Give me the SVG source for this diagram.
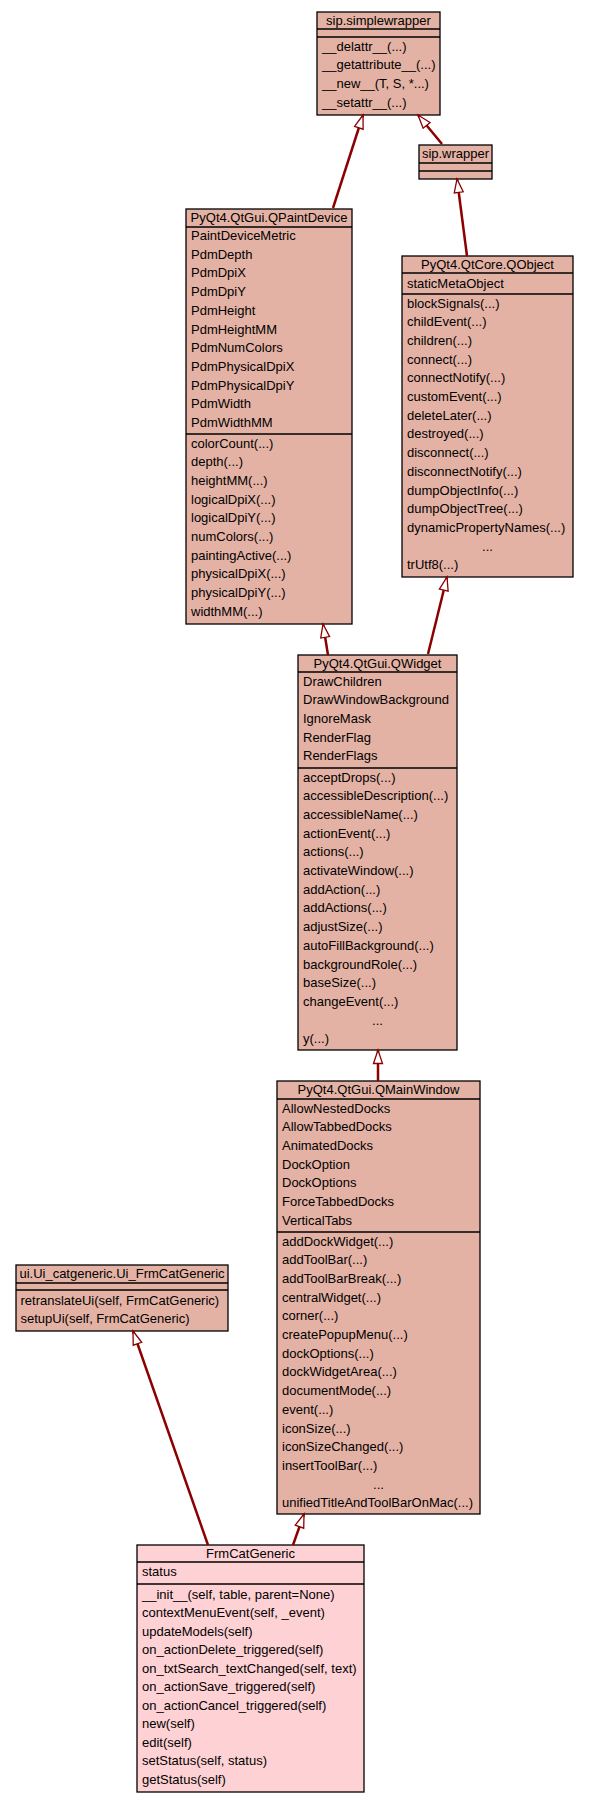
<svg xmlns="http://www.w3.org/2000/svg" width="589" height="1803" viewBox="0 0 589 1803">
<style>
text{font-family:"Liberation Sans",Arial,sans-serif;font-size:13px;fill:#000}
.t{text-anchor:middle}
.box{fill:#e4b2a4;stroke:#000;stroke-width:1.3}
.main{fill:#fed1d4;stroke:#000;stroke-width:1.3}
.sep{stroke:#000;stroke-width:1.5}
.edge{stroke:#8b0000;stroke-width:2.5;fill:none}
</style>
<defs>
<marker id="inh" viewBox="0 0 14 10" refX="14" refY="5" markerWidth="14" markerHeight="10" markerUnits="userSpaceOnUse" orient="auto" overflow="visible">
<path d="M0.5,0.5 L14,5 L0.5,9.5 Z" fill="#fff" stroke="#8b0000" stroke-width="1.3"/>
</marker>
</defs>
<rect width="589" height="1803" fill="#fff"/>

<g id="node-simplewrapper">
<rect class="box" x="317" y="12" width="123" height="103"/>
<line class="sep" x1="317" y1="29" x2="440" y2="29"/>
<line class="sep" x1="317" y1="37" x2="440" y2="37"/>
<text class="t" x="378.5" y="24.5">sip.simplewrapper</text>
<text x="322" y="50.5">__delattr__(...)</text>
<text x="322" y="69.2">__getattribute__(...)</text>
<text x="322" y="87.9">__new__(T, S, *...)</text>
<text x="322" y="106.6">__setattr__(...)</text>
</g>

<g id="node-wrapper">
<rect class="box" x="419" y="145" width="73" height="34"/>
<line class="sep" x1="419" y1="163" x2="492" y2="163"/>
<line class="sep" x1="419" y1="171" x2="492" y2="171"/>
<text class="t" x="455.5" y="157.5">sip.wrapper</text>
</g>

<g id="node-QPaintDevice">
<rect class="box" x="186" y="209" width="166" height="415"/>
<line class="sep" x1="186" y1="227" x2="352" y2="227"/>
<line class="sep" x1="186" y1="434" x2="352" y2="434"/>
<text class="t" x="269" y="221.5">PyQt4.QtGui.QPaintDevice</text>
<text x="191" y="240">PaintDeviceMetric</text>
<text x="191" y="258.7">PdmDepth</text>
<text x="191" y="277.4">PdmDpiX</text>
<text x="191" y="296.1">PdmDpiY</text>
<text x="191" y="314.8">PdmHeight</text>
<text x="191" y="333.5">PdmHeightMM</text>
<text x="191" y="352.2">PdmNumColors</text>
<text x="191" y="370.9">PdmPhysicalDpiX</text>
<text x="191" y="389.6">PdmPhysicalDpiY</text>
<text x="191" y="408.3">PdmWidth</text>
<text x="191" y="427">PdmWidthMM</text>
<text x="191" y="447.5">colorCount(...)</text>
<text x="191" y="466.2">depth(...)</text>
<text x="191" y="484.9">heightMM(...)</text>
<text x="191" y="503.6">logicalDpiX(...)</text>
<text x="191" y="522.3">logicalDpiY(...)</text>
<text x="191" y="541">numColors(...)</text>
<text x="191" y="559.7">paintingActive(...)</text>
<text x="191" y="578.4">physicalDpiX(...)</text>
<text x="191" y="597.1">physicalDpiY(...)</text>
<text x="191" y="615.8">widthMM(...)</text>
</g>

<g id="node-QObject">
<rect class="box" x="402" y="256" width="171" height="321"/>
<line class="sep" x1="402" y1="273" x2="573" y2="273"/>
<line class="sep" x1="402" y1="294" x2="573" y2="294"/>
<text class="t" x="487.5" y="268.5">PyQt4.QtCore.QObject</text>
<text x="407" y="287.5">staticMetaObject</text>
<text x="407" y="307.5">blockSignals(...)</text>
<text x="407" y="326.2">childEvent(...)</text>
<text x="407" y="344.9">children(...)</text>
<text x="407" y="363.6">connect(...)</text>
<text x="407" y="382.3">connectNotify(...)</text>
<text x="407" y="401">customEvent(...)</text>
<text x="407" y="419.7">deleteLater(...)</text>
<text x="407" y="438.4">destroyed(...)</text>
<text x="407" y="457.1">disconnect(...)</text>
<text x="407" y="475.8">disconnectNotify(...)</text>
<text x="407" y="494.5">dumpObjectInfo(...)</text>
<text x="407" y="513.2">dumpObjectTree(...)</text>
<text x="407" y="531.9">dynamicPropertyNames(...)</text>
<text class="t" x="487.5" y="550.6">...</text>
<text x="407" y="569.3">trUtf8(...)</text>
</g>

<g id="node-QWidget">
<rect class="box" x="298" y="655" width="159" height="395"/>
<line class="sep" x1="298" y1="672" x2="457" y2="672"/>
<line class="sep" x1="298" y1="768" x2="457" y2="768"/>
<text class="t" x="377.5" y="667.5">PyQt4.QtGui.QWidget</text>
<text x="303" y="685.5">DrawChildren</text>
<text x="303" y="704.2">DrawWindowBackground</text>
<text x="303" y="722.9">IgnoreMask</text>
<text x="303" y="741.6">RenderFlag</text>
<text x="303" y="760.3">RenderFlags</text>
<text x="303" y="781.5">acceptDrops(...)</text>
<text x="303" y="800.2">accessibleDescription(...)</text>
<text x="303" y="818.9">accessibleName(...)</text>
<text x="303" y="837.6">actionEvent(...)</text>
<text x="303" y="856.3">actions(...)</text>
<text x="303" y="875">activateWindow(...)</text>
<text x="303" y="893.7">addAction(...)</text>
<text x="303" y="912.4">addActions(...)</text>
<text x="303" y="931.1">adjustSize(...)</text>
<text x="303" y="949.8">autoFillBackground(...)</text>
<text x="303" y="968.5">backgroundRole(...)</text>
<text x="303" y="987.2">baseSize(...)</text>
<text x="303" y="1005.9">changeEvent(...)</text>
<text class="t" x="377.5" y="1024.6">...</text>
<text x="303" y="1043.3">y(...)</text>
</g>

<g id="node-QMainWindow">
<rect class="box" x="277" y="1081" width="203" height="433"/>
<line class="sep" x1="277" y1="1099" x2="480" y2="1099"/>
<line class="sep" x1="277" y1="1232" x2="480" y2="1232"/>
<text class="t" x="378.5" y="1093.5">PyQt4.QtGui.QMainWindow</text>
<text x="282" y="1112.5">AllowNestedDocks</text>
<text x="282" y="1131.2">AllowTabbedDocks</text>
<text x="282" y="1149.9">AnimatedDocks</text>
<text x="282" y="1168.6">DockOption</text>
<text x="282" y="1187.3">DockOptions</text>
<text x="282" y="1206">ForceTabbedDocks</text>
<text x="282" y="1224.7">VerticalTabs</text>
<text x="282" y="1245.5">addDockWidget(...)</text>
<text x="282" y="1264.2">addToolBar(...)</text>
<text x="282" y="1282.9">addToolBarBreak(...)</text>
<text x="282" y="1301.6">centralWidget(...)</text>
<text x="282" y="1320.3">corner(...)</text>
<text x="282" y="1339">createPopupMenu(...)</text>
<text x="282" y="1357.7">dockOptions(...)</text>
<text x="282" y="1376.4">dockWidgetArea(...)</text>
<text x="282" y="1395.1">documentMode(...)</text>
<text x="282" y="1413.8">event(...)</text>
<text x="282" y="1432.5">iconSize(...)</text>
<text x="282" y="1451.2">iconSizeChanged(...)</text>
<text x="282" y="1469.9">insertToolBar(...)</text>
<text class="t" x="378.5" y="1488.6">...</text>
<text x="282" y="1507.3">unifiedTitleAndToolBarOnMac(...)</text>
</g>

<g id="node-Ui_FrmCatGeneric">
<rect class="box" x="16" y="1265" width="212" height="66"/>
<line class="sep" x1="16" y1="1283" x2="228" y2="1283"/>
<line class="sep" x1="16" y1="1290" x2="228" y2="1290"/>
<text class="t" x="122" y="1277.5">ui.Ui_catgeneric.Ui_FrmCatGeneric</text>
<text x="20.5" y="1304.5">retranslateUi(self, FrmCatGeneric)</text>
<text x="20.5" y="1323.2">setupUi(self, FrmCatGeneric)</text>
</g>

<g id="node-FrmCatGeneric">
<rect class="main" x="137" y="1545" width="227" height="247"/>
<line class="sep" x1="137" y1="1562" x2="364" y2="1562"/>
<line class="sep" x1="137" y1="1584" x2="364" y2="1584"/>
<text class="t" x="250.5" y="1557.5">FrmCatGeneric</text>
<text x="142" y="1576">status</text>
<text x="142" y="1598.5">__init__(self, table, parent=None)</text>
<text x="142" y="1617">contextMenuEvent(self, _event)</text>
<text x="142" y="1635.5">updateModels(self)</text>
<text x="142" y="1654">on_actionDelete_triggered(self)</text>
<text x="142" y="1672.5">on_txtSearch_textChanged(self, text)</text>
<text x="142" y="1691">on_actionSave_triggered(self)</text>
<text x="142" y="1709.5">on_actionCancel_triggered(self)</text>
<text x="142" y="1728">new(self)</text>
<text x="142" y="1746.5">edit(self)</text>
<text x="142" y="1765">setStatus(self, status)</text>
<text x="142" y="1783.5">getStatus(self)</text>
</g>

<g id="edges">
<line class="edge" x1="333" y1="208" x2="363" y2="115" marker-end="url(#inh)"/>
<line class="edge" x1="442" y1="144" x2="418" y2="115" marker-end="url(#inh)"/>
<line class="edge" x1="467" y1="256" x2="457" y2="179" marker-end="url(#inh)"/>
<line class="edge" x1="328" y1="655" x2="323" y2="624" marker-end="url(#inh)"/>
<line class="edge" x1="428" y1="654" x2="447" y2="577" marker-end="url(#inh)"/>
<line class="edge" x1="378" y1="1081" x2="378" y2="1050" marker-end="url(#inh)"/>
<line class="edge" x1="293" y1="1545" x2="304" y2="1514" marker-end="url(#inh)"/>
<line class="edge" x1="208" y1="1545" x2="133" y2="1331" marker-end="url(#inh)"/>
</g>
</svg>
